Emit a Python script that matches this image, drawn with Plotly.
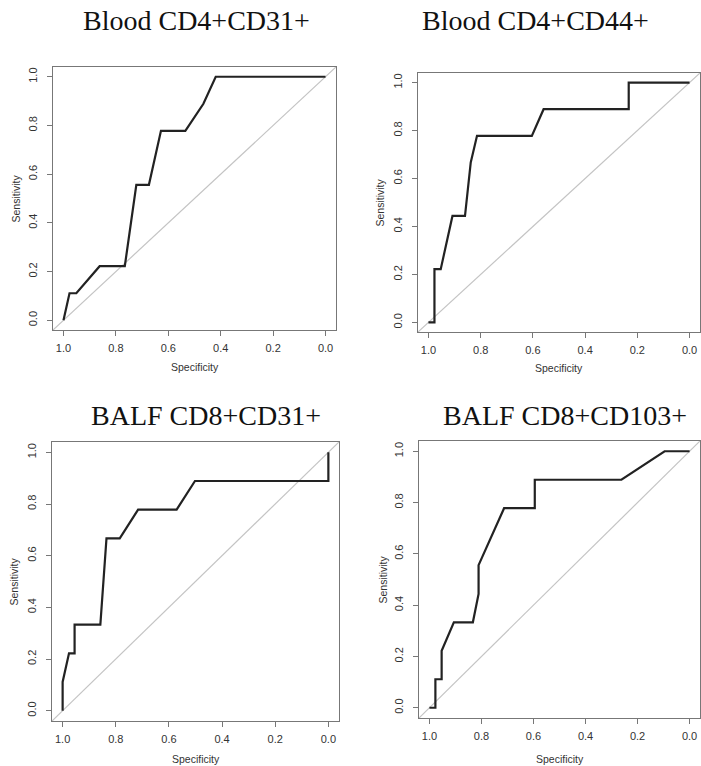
import plotly.graph_objects as go

W, H = 701, 766

# ROC curves (specificity on a reversed x axis, sensitivity on y)
titles = ["Blood CD4+CD31+", "Blood CD4+CD44+", "BALF CD8+CD31+", "BALF CD8+CD103+"]

blood_cd31_spec = [1.0, 0.977, 0.951, 0.862, 0.766, 0.722, 0.674, 0.628, 0.535, 0.466, 0.419, 0.0]
blood_cd31_sens = [0.0, 0.111, 0.111, 0.222, 0.222, 0.556, 0.556, 0.778, 0.778, 0.889, 1.0, 1.0]

blood_cd44_spec = [1.0, 0.977, 0.977, 0.953, 0.908, 0.860, 0.838, 0.814, 0.604, 0.559, 0.233, 0.233, 0.0]
blood_cd44_sens = [0.0, 0.0, 0.222, 0.222, 0.444, 0.444, 0.667, 0.778, 0.778, 0.889, 0.889, 1.0, 1.0]

balf_cd31_spec = [1.0, 1.0, 0.976, 0.955, 0.955, 0.858, 0.835, 0.785, 0.716, 0.571, 0.502, 0.0, 0.0]
balf_cd31_sens = [0.0, 0.111, 0.222, 0.222, 0.333, 0.333, 0.667, 0.667, 0.778, 0.778, 0.889, 0.889, 1.0]

balf_cd103_spec = [1.0, 0.977, 0.977, 0.953, 0.953, 0.906, 0.833, 0.811, 0.811, 0.713, 0.595, 0.595, 0.262, 0.096, 0.0]
balf_cd103_sens = [0.0, 0.0, 0.111, 0.111, 0.222, 0.333, 0.333, 0.444, 0.556, 0.778, 0.778, 0.889, 0.889, 1.0, 1.0]

tick_vals = [0.0, 0.2, 0.4, 0.6, 0.8, 1.0]
tick_text = ["0.0", "0.2", "0.4", "0.6", "0.8", "1.0"]

X_RANGE = [1.04, -0.04]
Y_RANGE = [-0.04, 1.04]

curves = [
    (blood_cd31_spec, blood_cd31_sens),
    (blood_cd44_spec, blood_cd44_sens),
    (balf_cd31_spec, balf_cd31_sens),
    (balf_cd103_spec, balf_cd103_sens),
]

# plot-box pixel rectangles: left, top, right, bottom
boxes = [
    (53, 67, 336, 330),
    (418, 73, 700, 332),
    (52, 442, 339, 721),
    (419, 441, 700, 718),
]
title_pos = [(196, 20), (535, 20), (206, 415), (565, 415)]
ylab_x = [15, 379, 13, 382]
xlab_y = [367, 368, 759, 759]

fig = go.Figure()
annotations = []

for i, ((spec, sens), (l, t, r, b)) in enumerate(zip(curves, boxes)):
    n = "" if i == 0 else str(i + 1)
    xa, ya = "x" + n, "y" + n

    # chance diagonal across the whole box
    diag_x = list(X_RANGE)
    diag_y = [1 - v for v in diag_x]
    fig.add_trace(go.Scatter(x=diag_x, y=diag_y, mode="lines", xaxis=xa, yaxis=ya,
                             line=dict(color="#c4c4c4", width=1.2), hoverinfo="skip",
                             showlegend=False))
    fig.add_trace(go.Scatter(x=spec, y=sens, mode="lines", xaxis=xa, yaxis=ya,
                             line=dict(color="#222222", width=2.2), showlegend=False))

    axis_common = dict(showgrid=False, zeroline=False, showline=True, mirror=True,
                       linecolor="#777777", linewidth=1.3, ticks="outside", ticklen=5,
                       tickwidth=1.2, tickcolor="#777777", tickvals=tick_vals,
                       ticktext=tick_text, tickfont=dict(family="Liberation Sans", size=11,
                                                         color="#333333"),
                       fixedrange=True)
    fig.update_layout(**{
        "xaxis" + n: dict(domain=[l / W, r / W], range=X_RANGE, anchor=ya,
                          ticklabelstandoff=3, **axis_common),
        "yaxis" + n: dict(domain=[1 - b / H, 1 - t / H], range=Y_RANGE, anchor=xa,
                          tickangle=-90, ticklabelstandoff=5, **axis_common),
    })

    tx, ty = title_pos[i]
    annotations.append(dict(text=titles[i], x=tx / W, y=1 - ty / H, xref="paper", yref="paper",
                            showarrow=False, xanchor="center", yanchor="middle",
                            font=dict(family="Liberation Serif", size=28, color="#111111")))
    annotations.append(dict(text="Sensitivity", x=ylab_x[i] / W, y=1 - ((t + b) / 2) / H,
                            xref="paper", yref="paper", showarrow=False, textangle=-90,
                            xanchor="center", yanchor="middle",
                            font=dict(family="Liberation Sans", size=10.5, color="#333333")))
    annotations.append(dict(text="Specificity", x=((l + r) / 2) / W, y=1 - xlab_y[i] / H,
                            xref="paper", yref="paper", showarrow=False,
                            xanchor="center", yanchor="middle",
                            font=dict(family="Liberation Sans", size=10.5, color="#333333")))

fig.update_layout(width=W, height=H, margin=dict(l=0, r=0, t=0, b=0),
                  paper_bgcolor="white", plot_bgcolor="white",
                  annotations=annotations, showlegend=False)

fig.write_html("out.html")
